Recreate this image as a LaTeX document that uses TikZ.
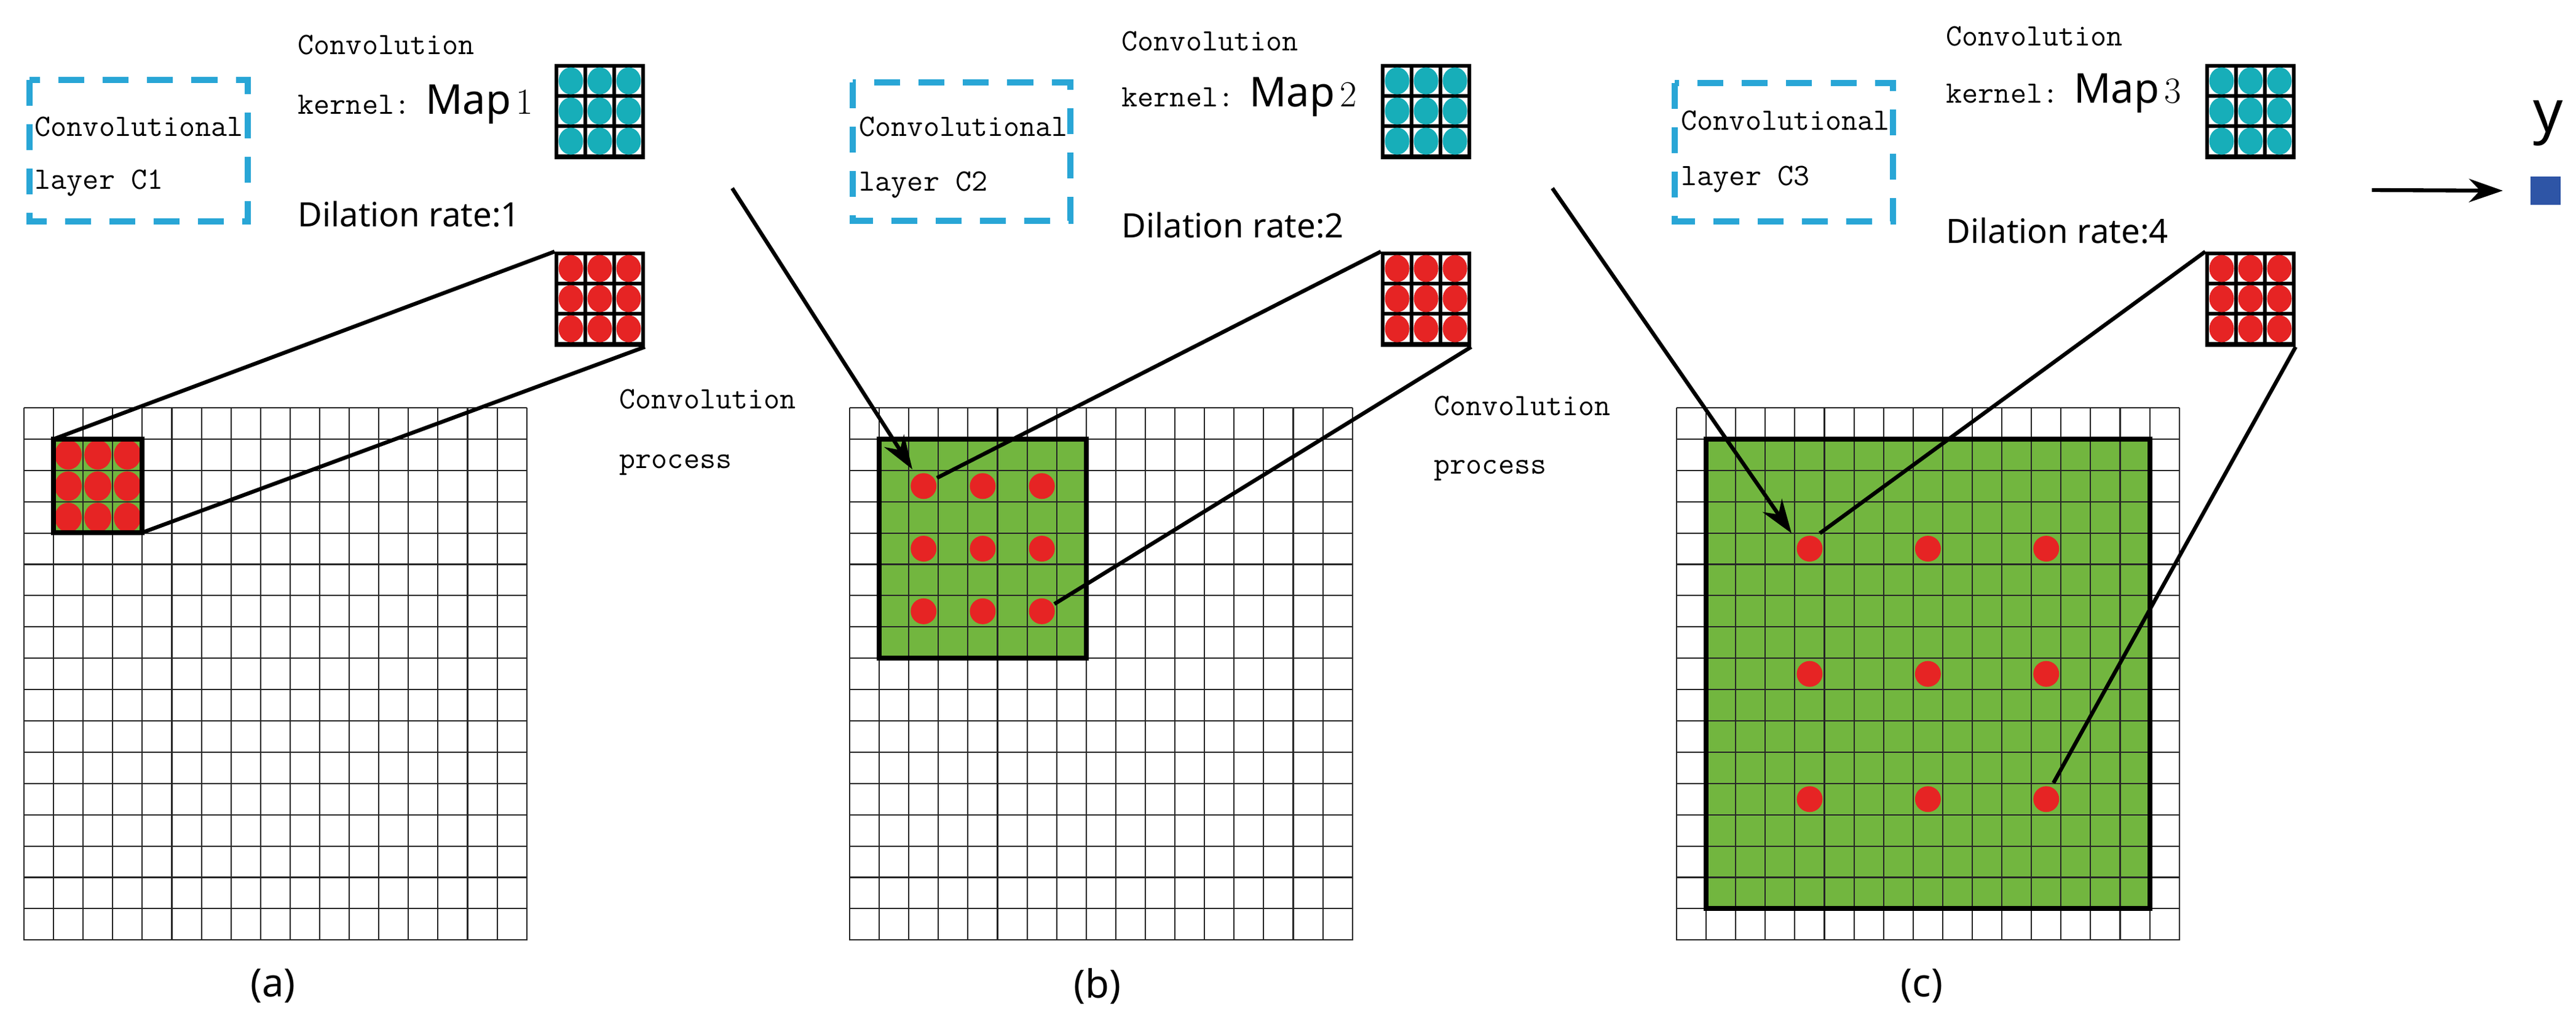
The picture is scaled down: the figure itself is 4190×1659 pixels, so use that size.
\documentclass[tikz,border=0pt]{standalone}
\usepackage{fontspec}
\newfontfamily\nsans{Noto Sans}
\usetikzlibrary{arrows.meta}
\definecolor{fmgreen}{HTML}{72B63F}
\definecolor{fmred}{HTML}{E62424}
\definecolor{fmcyan}{HTML}{17AEB9}
\definecolor{fmdash}{HTML}{29A6D6}
\definecolor{fmblue}{HTML}{2E55A6}
\newcommand\fmgrid[1]{%
  \foreach \i in {0,...,17} \draw[gl] ({#1+\i*48.1},663) -- ({#1+\i*48.1},1529);
  \foreach \j in {0,...,17} \draw[gl] (#1,{663+\j*50.9}) -- ({#1+818},{663+\j*50.9});}
\newcommand\fmkernel[3]{% x y color
  \fill[black] (#1,#2) rectangle ++(147,155);
  \foreach \i in {0,1,2} \foreach \j in {0,1,2}
    \fill[white] ({#1+6+\i*47},{#2+6+\j*49}) rectangle ++(41,43);
  \foreach \i in {0,1,2} \foreach \j in {0,1,2}
    \fill[#3] ({#1+26.5+\i*47},{#2+27.5+\j*49}) ellipse [x radius=20,y radius=22];}
\begin{document}
\begin{tikzpicture}[x=0.01cm,y=-0.01cm,
  gl/.style={line width=0.6pt,black!85},
  thickbox/.style={line width=2.2pt,black},
  conn/.style={line width=1.8pt,black},
  arr/.style={line width=1.8pt,black,-{Stealth[length=0.55cm,width=0.38cm]}},
  mono/.style={font=\fontsize{14.4}{16}\ttfamily,anchor=west,inner sep=0},
  dil/.style={font=\fontsize{15.5}{18}\nsans,anchor=west,inner sep=0},
  mapf/.style={font=\fontsize{19}{20}\nsans\bfseries},
  dashbox/.style={draw=fmdash,line width=2.6pt,dash pattern=on 0.42cm off 0.3cm},
  plabel/.style={font=\fontsize{18}{20}\nsans,inner sep=0}]
\useasboundingbox (0,0) rectangle (4190,1659);
% ---------------- panel (a)
\fill[fmgreen] (87,714) rectangle (231,866);
\fmgrid{39}
\foreach \i in {0,1,2} \foreach \j in {0,1,2}
  \fill[fmred] ({111+\i*48.1},{739.5+\j*50.9}) ellipse [x radius=22,y radius=24];
\draw[thickbox] (87,714) rectangle (231,866);
\coordinate (a-tl) at (87,714);
\coordinate (a-br) at (231,866);
\draw[dashbox] (48,130) rectangle (403,360);
\node[mono] (c1a) at (56,206) {Convolutional};
\node[mono] (c1b) at (56,297) {layer C1};
\node[mono] (k1a) at (484,73) {Convolution};
\node[mono] (k1b) at (484,170) {kernel:\hspace{0.25cm}{\fontsize{19}{20}\nsans\mdseries Map}\,{\rmfamily\fontsize{17}{18}\selectfont 1}};
\node[dil] (d1) at (484,348) {Dilation rate:1};
\fmkernel{902}{104}{fmcyan}
\fmkernel{902}{409}{fmred}
\coordinate (r1-tl) at (902,409);
\coordinate (r1-br) at (1049,564);
\draw[conn] (r1-tl) -- (a-tl);
\draw[conn] (r1-br) -- (a-br);
\node[plabel] (la) at (444,1603) {(a)};
\node[mono] (p1a) at (1007,649) {Convolution};
\node[mono] (p1b) at (1007,756) {process};
% ---------------- panel (b)
\fill[fmgreen] (1430,714) rectangle (1767,1070);
\fmgrid{1382}
\draw[thickbox] (1430,714) rectangle (1767,1070);
\foreach \i in {0,1,2} \foreach \j in {0,1,2}
  \fill[fmred] ({1382+(2.5+2*\i)*48.1},{663+(2.5+2*\j)*50.9}) circle (21);
\coordinate (b-d1) at (1524,777);
\coordinate (b-d9) at (1715,982);
\draw[dashbox] (1387,134) rectangle (1741,359);
\node[mono] (c2a) at (1397,206) {Convolutional};
\node[mono] (c2b) at (1397,300) {layer C2};
\node[mono] (k2a) at (1824,67) {Convolution};
\node[mono] (k2b) at (1824,158) {kernel:\hspace{0.25cm}{\fontsize{19}{20}\nsans\mdseries Map}\,{\rmfamily\fontsize{17}{18}\selectfont 2}};
\node[dil] (d2) at (1824,366) {Dilation rate:2};
\fmkernel{2246}{104}{fmcyan}
\fmkernel{2246}{409}{fmred}
\coordinate (r2-tl) at (2246,409);
\coordinate (r2-br) at (2393,564);
\draw[conn] (r2-tl) -- (b-d1);
\draw[conn] (r2-br) -- (b-d9);
\coordinate (ar1s) at (1191,306);
\coordinate (ar1e) at (1484,763);
\draw[arr] (ar1s) -- (ar1e);
\node[plabel] (lb) at (1785,1603) {(b)};
\node[mono] (p2a) at (2332,660) {Convolution};
\node[mono] (p2b) at (2332,765) {process};
% ---------------- panel (c)
\fill[fmgreen] (2775,714) rectangle (3497,1477);
\fmgrid{2727}
\draw[thickbox] (2775,714) rectangle (3497,1477);
\foreach \i in {0,1,2} \foreach \j in {0,1,2}
  \fill[fmred] ({2727+(4.5+4*\i)*48.1},{663+(4.5+4*\j)*50.9}) circle (21);
\coordinate (c-d1) at (2960,867);
\coordinate (c-d9) at (3340,1273);
\draw[dashbox] (2724,135) rectangle (3079,360);
\node[mono] (c3a) at (2734,196) {Convolutional};
\node[mono] (c3b) at (2734,291) {layer C3};
\node[mono] (k3a) at (3165,59) {Convolution};
\node[mono] (k3b) at (3165,152) {kernel:\hspace{0.25cm}{\fontsize{19}{20}\nsans\mdseries Map}\,{\rmfamily\fontsize{17}{18}\selectfont 3}};
\node[dil] (d3) at (3165,375) {Dilation rate:4};
\fmkernel{3587}{104}{fmcyan}
\fmkernel{3587}{409}{fmred}
\coordinate (r3-tl) at (3587,409);
\coordinate (r3-br) at (3734,564);
\draw[conn] (r3-tl) -- (c-d1);
\draw[conn] (r3-br) -- (c-d9);
\coordinate (ar2s) at (2525,306);
\coordinate (ar2e) at (2914,867);
\draw[arr] (ar2s) -- (ar2e);
\node[plabel] (lc) at (3126,1603) {(c)};
% ---------------- output
\coordinate (ar3s) at (3858,309);
\node[fill=fmblue,minimum width=0.49cm,minimum height=0.46cm,inner sep=0] (ysq) at (4140,310) {};
\draw[arr] (ar3s) -- (ysq.west -| 4071,0);
\node[font=\fontsize{27}{30}\nsans,inner sep=0] (ylab) at (4145,200) {y};
\end{tikzpicture}
\end{document}
